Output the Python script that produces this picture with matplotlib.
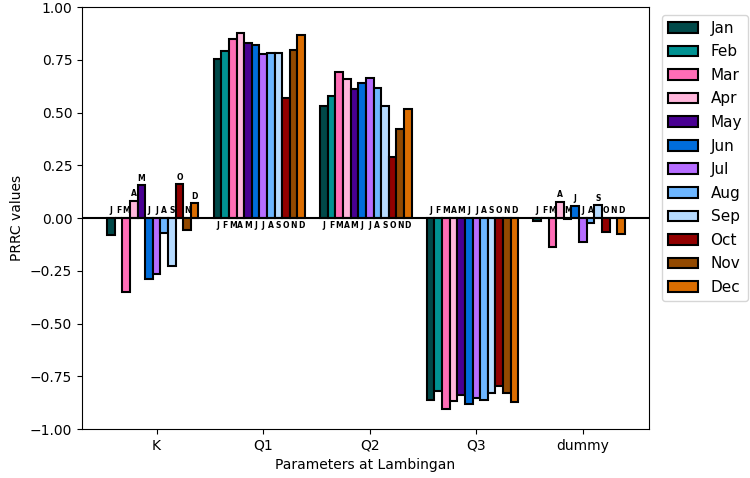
import numpy as np
import matplotlib
matplotlib.use("Agg")
import matplotlib.pyplot as plt

params = ["K", "Q1", "Q2", "Q3", "dummy"]
months = ["Jan", "Feb", "Mar", "Apr", "May", "Jun",
          "Jul", "Aug", "Sep", "Oct", "Nov", "Dec"]
colors = ["#004949", "#009292", "#ff6db6", "#ffb6db", "#490092", "#006ddb",
          "#b66dff", "#6db6ff", "#b6dbff", "#920000", "#924900", "#db6d00"]

# PRRC values per month, one list per parameter (K, Q1, Q2, Q3, dummy)
jan = [-0.08, 0.755, 0.53, -0.862, -0.016]
feb = [0.0, 0.79, 0.58, -0.82, 0.0]
mar = [-0.352, 0.85, 0.69, -0.905, -0.136]
apr = [0.082, 0.875, 0.66, -0.867, 0.077]
may = [0.156, 0.83, 0.61, -0.84, -0.007]
jun = [-0.29, 0.82, 0.64, -0.88, 0.057]
jul = [-0.265, 0.776, 0.665, -0.855, -0.112]
aug = [-0.073, 0.78, 0.615, -0.862, -0.025]
sep = [-0.226, 0.78, 0.53, -0.83, 0.06]
oct_ = [0.161, 0.567, 0.288, -0.796, -0.065]
nov = [-0.057, 0.795, 0.42, -0.827, 0.0]
dec = [0.07, 0.867, 0.517, -0.87, -0.077]
values = [jan, feb, mar, apr, may, jun, jul, aug, sep, oct_, nov, dec]

fig = plt.figure(figsize=(7.5, 4.78), dpi=100)
ax = fig.add_axes([0.1093, 0.1025, 0.756, 0.8828])

x = np.arange(len(params))
w = 1 / 14
for i, (m, c, vals) in enumerate(zip(months, colors, values)):
    pos = x + (i - 6) * w
    ax.bar(pos, vals, w, color=c, edgecolor="black", linewidth=1.5, label=m)
    for px, v in zip(pos, vals):
        # big bars get their letter on the other side of the zero line
        if abs(v) > 0.25:
            y = -0.012 if v > 0 else 0.012
            va = "top" if v > 0 else "bottom"
        else:
            y = max(v, 0) + 0.012
            va = "bottom"
        ax.text(px, y, m[0], ha="center", va=va, fontsize=5.5, fontweight="bold")

ax.axhline(0, color="black", linewidth=1.5)
ax.set_xticks(x)
ax.set_xticklabels(params)
ax.set_xlim(-0.70, 4.62)
ax.set_ylim(-1, 1)
ax.set_yticks(np.arange(-1, 1.01, 0.25))
ax.set_xlabel("Parameters at Lambingan")
ax.set_ylabel("PRRC values")
ax.legend(loc="upper left", bbox_to_anchor=(1.009, 1.0), fontsize=11,
          labelspacing=0.56)

fig.savefig("out.png", dpi=100)
